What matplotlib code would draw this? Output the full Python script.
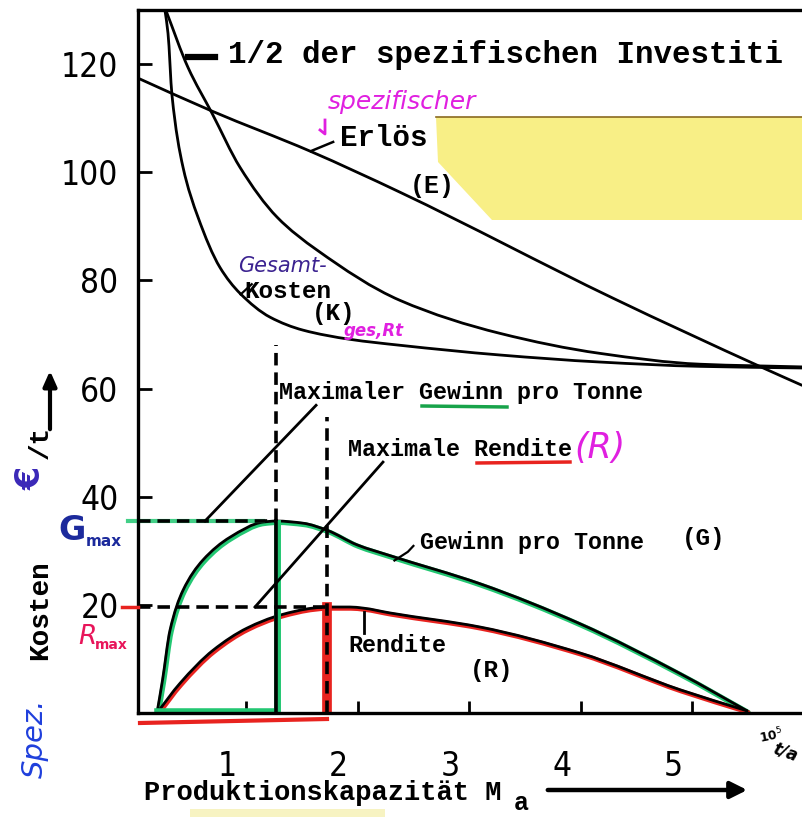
import numpy as np
import matplotlib
matplotlib.use("Agg")
import matplotlib.pyplot as plt
from matplotlib import transforms
from matplotlib.patches import Polygon, FancyArrowPatch, PathPatch
from matplotlib.path import Path

plt.rcParams["lines.scale_dashes"] = False

# ---- data: production capacity (10^5 t/a) vs specific cost (€/t) ----
x_erloes = [0.03, 0.694, 1.573, 2.380, 4.291, 5.627, 5.985]
y_erloes = [117.4, 111.3, 103.9, 96.3, 76.7, 63.9, 60.6]

x_kosten = [0.272, 0.299, 0.335, 0.434, 0.568, 0.765, 0.945, 1.214, 1.510,
            1.931, 2.380, 3.277, 4.174, 5.071, 5.985]
y_kosten = [129.9, 125.7, 114.2, 100.9, 91.7, 82.4, 77.6, 73.2, 70.8,
            69.1, 68.0, 66.2, 64.9, 64.1, 63.8]

x_invest = [0.281, 0.478, 0.694, 0.945, 1.277, 1.636, 2.380, 3.277, 4.174,
            5.071, 5.985]
y_invest = [129.9, 119.4, 110.9, 100.9, 91.7, 85.6, 76.3, 70.2, 66.5,
            64.5, 64.0]

x_gewinn = [0.20, 0.25, 0.317, 0.434, 0.613, 0.855, 1.151, 1.27, 1.51,
            1.725, 1.994, 2.29, 3.097, 3.994, 4.891, 5.492]
y_gewinn = [0.0, 6.1, 15.3, 22.7, 28.3, 32.5, 35.3, 35.5, 35.1,
            33.8, 31.1, 29.1, 23.9, 16.5, 7.3, 0.4]

x_rendite = [0.20, 0.407, 0.703, 1.008, 1.304, 1.60, 1.725, 1.93, 2.048,
             2.29, 3.097, 3.994, 4.891, 5.492]
y_rendite = [0.0, 5.5, 11.6, 15.7, 18.1, 19.4, 19.6, 19.6, 19.4,
             18.5, 15.9, 11.1, 4.3, 0.4]

x_gmax, g_max = 1.27, 35.5
x_rmax, r_max = 1.725, 19.6

x_ticks = [1, 2, 3, 4, 5]
y_ticks = [20, 40, 60, 80, 100, 120]

W, H = 802, 817
MONO = ["Liberation Mono", "DejaVu Sans Mono"]
NUM = ["DejaVu Sans"]
HAND = ["DejaVu Sans"]
GREEN = "#22c772"
RED = "#e8231f"
MAGENTA = "#e020e0"

fig = plt.figure(figsize=(W / 100, H / 100), dpi=100)
ax = fig.add_axes([138 / W, (H - 713) / H, 664 / W, 703 / H])
ax.set_xlim(0.03, 5.985)
ax.set_ylim(0, 130)


def curve_path(xs, ys):
    """Smooth Bezier path through the given points (monotone cubic Hermite)."""
    x = np.asarray(xs, float)
    y = np.asarray(ys, float)
    h = np.diff(x)
    d = np.diff(y) / h
    m = np.empty_like(x)
    m[0], m[-1] = d[0], d[-1]
    for i in range(1, len(x) - 1):
        if d[i - 1] * d[i] <= 0:
            m[i] = 0.0
        else:
            w1 = 2 * h[i] + h[i - 1]
            w2 = h[i] + 2 * h[i - 1]
            m[i] = (w1 + w2) / (w1 / d[i - 1] + w2 / d[i])
    verts = [(x[0], y[0])]
    codes = [Path.MOVETO]
    for i in range(len(x) - 1):
        verts += [(x[i] + h[i] / 3, y[i] + m[i] * h[i] / 3),
                  (x[i + 1] - h[i] / 3, y[i + 1] - m[i + 1] * h[i] / 3),
                  (x[i + 1], y[i + 1])]
        codes += [Path.CURVE4] * 3
    return Path(verts, codes)


def draw_curve(xs, ys, **kw):
    ax.add_patch(PathPatch(curve_path(xs, ys), fill=False, capstyle="round", **kw))


def fp(x, y):
    """pixel position (from top-left) -> figure fraction"""
    return (x / W, 1 - y / H)


def ftext(x, y, s, **kw):
    kw.setdefault("va", "center")
    kw.setdefault("ha", "left")
    return fig.text(*fp(x, y), s, **kw)


# spines and ticks
for side in ("left", "bottom", "top"):
    ax.spines[side].set_linewidth(2.4)
ax.spines["right"].set_visible(False)
ax.set_yticks(y_ticks)
ax.set_yticklabels([str(v) for v in y_ticks], family=NUM, fontsize=24,
                   stretch="condensed")
ax.set_xticks(x_ticks)
ax.set_xticklabels([])
ax.tick_params(axis="y", direction="in", length=10, width=2, pad=14)
ax.tick_params(axis="x", direction="in", length=9, width=2)
label_shift = transforms.ScaledTranslation(-0.19, -0.37, fig.dpi_scale_trans)
for v in x_ticks:
    ax.text(v, 0, str(v), transform=ax.get_xaxis_transform() + label_shift,
            ha="center", va="top", family=NUM, fontsize=24, stretch="condensed",
            clip_on=False)

# highlighter strokes, slightly offset from the printed lines
hl = transforms.offset_copy(ax.transData, fig=fig, x=1.2, y=-1.5, units="dots")
draw_curve(x_gewinn, y_gewinn, edgecolor=GREEN, lw=3.6, transform=hl)
draw_curve(x_rendite, y_rendite, edgecolor=RED, lw=3.2, transform=hl)
ax.plot([x_gmax, x_gmax], [0, g_max], color=GREEN, lw=5, transform=hl)
ax.plot([0.2, x_gmax], [0.4, 0.4], color=GREEN, lw=4)
ax.plot([-0.06, 1.15], [g_max, g_max], color=GREEN, lw=3, alpha=0.85, clip_on=False)
ax.plot([x_rmax, x_rmax], [0, r_max], color=RED, lw=7)

# cost / revenue curves
for xs, ys in ((x_erloes, y_erloes), (x_kosten, y_kosten), (x_invest, y_invest),
               (x_gewinn, y_gewinn), (x_rendite, y_rendite)):
    draw_curve(xs, ys, edgecolor="black", lw=2.0)

# optimum markers
dash_kw = dict(color="black", lw=2.6, dashes=(9, 5))
ax.plot([x_gmax, x_gmax], [g_max, 68.0], **dash_kw)
ax.plot([x_gmax, x_gmax], [0, g_max], color="black", lw=2.6)
ax.plot([x_rmax, x_rmax], [0, 54.7], **dash_kw)
ax.plot([0.03, x_gmax], [g_max, g_max], **dash_kw)
ax.plot([0.03, x_rmax], [r_max, r_max], **dash_kw)

# leader lines
ax.plot([0.631, 1.627], [g_max, 56.9], color="black", lw=2)
ax.plot([1.079, 2.227], [r_max, 46.4], color="black", lw=2)
ax.plot([0.48, 0.72], [121.3, 121.3], color="black", lw=4.5)
ax.plot([1.58, 1.78], [103.9, 105.6], color="black", lw=1.8)
ax.plot([0.95, 1.05], [77.4, 79.3], color="black", lw=1.6)
ax.plot([2.33, 2.45, 2.5], [28.2, 29.8, 30.9], color="black", lw=1.6)
ax.plot([2.06, 2.06], [18.6, 14.8], color="black", lw=2)

# yellow sticky note and highlight
fig.patches.append(Polygon([fp(436, 117), fp(802, 117), fp(802, 220), fp(492, 220),
                            fp(438, 162)], closed=True, transform=fig.transFigure,
                           facecolor="#f8ef86", edgecolor="none", zorder=0.5))
fig.lines.append(plt.Line2D([436 / W, 1], [1 - 117 / H, 1 - 117 / H],
                            transform=fig.transFigure, color="#8a6a20", lw=1.2))
fig.patches.append(Polygon([fp(190, 809), fp(385, 809), fp(385, 817), fp(190, 817)],
                           closed=True, transform=fig.transFigure,
                           facecolor="#f7f3c2", edgecolor="none"))

# printed labels
tw = dict(family=MONO, weight="bold", color="black")
ftext(228, 55, "1/2 der spezifischen Investiti", fontsize=22.2, **tw)
ftext(340, 138, "Erlös", fontsize=21, **tw)
ftext(410, 186, "(E)", fontsize=18, **tw)
ftext(244, 291, "Kosten", fontsize=17.5, **tw)
ftext(312, 314, "(K)", fontsize=17.5, **tw)
ftext(279, 392, "Maximaler Gewinn pro Tonne", fontsize=16.8, **tw)
ftext(348, 449, "Maximale Rendite", fontsize=16.8, **tw)
ftext(420, 542, "Gewinn pro Tonne", fontsize=16.8, **tw)
ftext(682, 538, "(G)", fontsize=17.5, **tw)
ftext(348, 645, "Rendite", fontsize=16.8, **tw)
ftext(470, 670, "(R)", fontsize=17.5, **tw)
ftext(144, 793, "Produktionskapazität M", fontsize=19.5, **tw)
ftext(514, 803, "a", fontsize=18, **tw)
fig.patches.append(FancyArrowPatch(fp(545, 790), fp(750, 790), transform=fig.transFigure,
                                   arrowstyle="-|>,head_length=10,head_width=5",
                                   lw=3.2, color="black", mutation_scale=1))

# vertical axis label
ftext(40, 610, "Kosten", fontsize=20, rotation=90, ha="center", **tw)
ftext(41, 442, "/t", fontsize=20, rotation=90, ha="center", **tw)
ftext(31, 478, "€", fontsize=24, rotation=90, ha="center", family=HAND,
      color="#3a28b8", weight="bold")
fig.patches.append(FancyArrowPatch(fp(50, 432), fp(50, 368), transform=fig.transFigure,
                                   arrowstyle="-|>,head_length=9,head_width=4",
                                   lw=3, color="black", mutation_scale=1))

# handwritten notes
ftext(35, 738, "Spez.", fontsize=21, rotation=90, ha="center", family=HAND,
      color="#1f3fdc", style="italic")
ftext(58, 530, "G", fontsize=24, family=HAND, color="#1c2a9c", weight="bold")
ftext(86, 542, "max", fontsize=11, family=HAND, color="#1c2a9c", weight="bold")
ftext(78, 637, "R", fontsize=19, family=HAND, color="#e8155a", style="italic")
ftext(95, 645, "max", fontsize=10, family=HAND, color="#e8155a", weight="bold")
fig.lines.append(plt.Line2D([122 / W, 138 / W], [1 - 607 / H, 1 - 607 / H],
                            transform=fig.transFigure, color=RED, lw=2.5))
fig.lines.append(plt.Line2D([140 / W, 327 / W], [1 - 723 / H, 1 - 719 / H],
                            transform=fig.transFigure, color=RED, lw=3))
ftext(328, 102, "spezifischer", fontsize=18, family=HAND, color=MAGENTA, style="italic")
fig.lines.append(plt.Line2D([325 / W, 325 / W, 320 / W], [1 - 120 / H, 1 - 134 / H, 1 - 130 / H],
                            transform=fig.transFigure, color=MAGENTA, lw=2))
ftext(238, 266, "Gesamt-", fontsize=15, family=HAND, color="#3b2290", style="italic")
ftext(344, 331, "ges,Rt", fontsize=12, family=HAND, color=MAGENTA, style="italic",
      weight="bold")
ftext(574, 448, "(R)", fontsize=25, family=HAND, color=MAGENTA, style="italic")
fig.lines.append(plt.Line2D([422 / W, 507 / W], [1 - 406 / H, 1 - 407 / H],
                            transform=fig.transFigure, color="#17a34a", lw=2.5))
fig.lines.append(plt.Line2D([477 / W, 570 / W], [1 - 463 / H, 1 - 462 / H],
                            transform=fig.transFigure, color=RED, lw=2.5))
ftext(758, 736, "10$^5$", fontsize=9, family=HAND, weight="bold", rotation=12)
ftext(770, 752, "t/a", fontsize=12, family=HAND, weight="bold", rotation=-20,
      style="italic")

fig.savefig("out.png", dpi=100, facecolor="white")
